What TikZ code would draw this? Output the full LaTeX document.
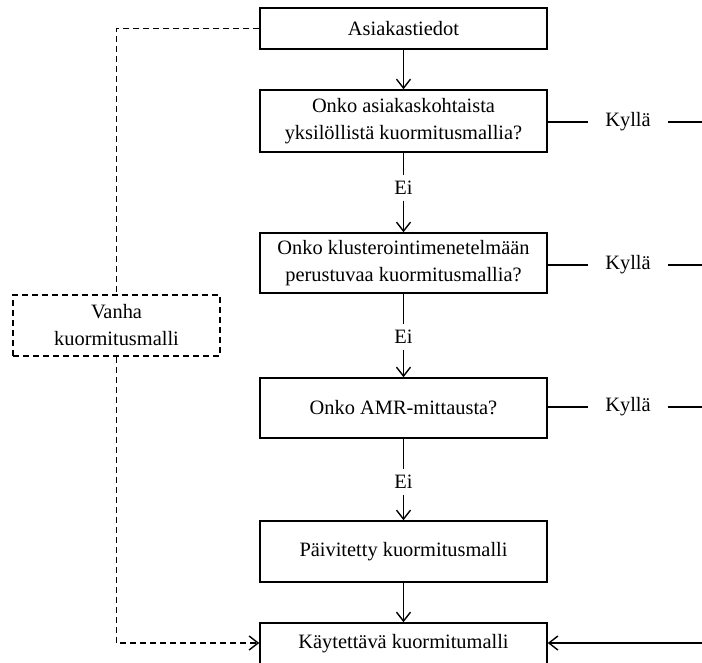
\documentclass[tikz,border=0pt]{standalone}
\usepackage{fontspec}
\setmainfont{Liberation Serif}
\usetikzlibrary{arrows.meta}
\begin{document}
\begin{tikzpicture}[x=1pt,y=-1pt,
  every node/.style={font=\fontsize{20.4}{27}\selectfont},
  stepbox/.style={draw,line width=1.5pt,minimum width=287pt,inner sep=0pt,align=center},
  oldbox/.style={draw,line width=1.5pt,dash pattern=on 6pt off 4pt,minimum width=207pt,minimum height=61pt,inner sep=0pt,align=center},
  flow/.style={line width=1.5pt},
  tip/.style={-{Straight Barb[length=9pt,width=14pt,line width=1.4pt]}},
  dsh/.style={line width=1.5pt,dash pattern=on 6pt off 4pt},
  nolbl/.style={inner sep=0pt,minimum height=25pt},
  yeslbl/.style={inner xsep=17pt,inner ysep=0pt}]
\useasboundingbox (0,0) rectangle (702,662);
\clip (0,0) rectangle (702,662);

% main column
\node[stepbox,minimum height=41pt] (a) at (403.5,28.5) {Asiakastiedot};
\node[stepbox,minimum height=62pt] (q1) at (403.5,121) {Onko asiakaskohtaista\\yksilöllistä kuormitusmallia?};
\node[nolbl] (e1) at (403.5,188) {Ei};
\node[stepbox,minimum height=60pt] (q2) at (403.5,263) {Onko klusterointimenetelmään\\perustuvaa kuormitusmallia?};
\node[nolbl] (e2) at (403.5,337) {Ei};
\node[stepbox,minimum height=60pt] (q3) at (403.5,408) {Onko AMR-mittausta?};
\node[nolbl] (e3) at (403.5,482) {Ei};
\node[stepbox,minimum height=61pt] (upd) at (403.5,551.5) {Päivitetty kuormitusmalli};
\node[stepbox,minimum height=42pt] (use) at (403.5,644) {Käytettävä kuormitumalli};

% old model on the left
\node[oldbox] (old) at (116.5,325.5) {Vanha\\kuormitusmalli};

% "yes" branches leaving to the right
\node[yeslbl] (y1) at (628,122) {Kyllä};
\node[yeslbl] (y2) at (628,265) {Kyllä};
\node[yeslbl] (y3) at (628,407) {Kyllä};
\coordinate (r1) at (702,122);
\coordinate (r2) at (702,265);
\coordinate (r3) at (702,407);
\coordinate (rin) at (702,643);

\draw[flow] (q1.east |- y1) -- (y1.west);
\draw[flow] (y1.east) -- (r1);
\draw[flow] (q2.east |- y2) -- (y2.west);
\draw[flow] (y2.east) -- (r2);
\draw[flow] (q3.east |- y3) -- (y3.west);
\draw[flow] (y3.east) -- (r3);
\draw[flow,tip] (rin) -- (use.east |- rin);

% main flow
\draw[flow,tip] (a) -- (q1);
\draw[flow] (q1) -- (e1);
\draw[flow,tip] (e1) -- (q2);
\draw[flow] (q2) -- (e2);
\draw[flow,tip] (e2) -- (q3);
\draw[flow] (q3) -- (e3);
\draw[flow,tip] (e3) -- (upd);
\draw[flow,tip] (upd) -- (use);

% dashed fallback path
\draw[dsh] (a.west) -| (old.north);
\draw[dsh,tip] (old.south) |- (use.west |- rin);
\end{tikzpicture}
\end{document}
